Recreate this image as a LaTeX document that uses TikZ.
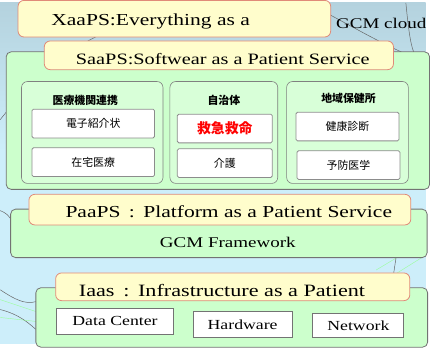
\documentclass[tikz,border=0pt]{standalone}
\usepackage{fontspec}
\setmainfont[FakeStretch=1.28]{Liberation Serif}
\newfontfamily\jp{Noto Sans CJK JP}
\definecolor{skyblue}{HTML}{CDEEFA}
\definecolor{cloudgray}{HTML}{B4D2DE}
\definecolor{layergreen}{HTML}{CCFFCC}
\definecolor{panelgreen}{HTML}{D8FFD8}
\definecolor{labelyellow}{HTML}{FFFDCC}
\definecolor{labelred}{HTML}{E08A78}
\begin{document}
\begin{tikzpicture}[
    x=1pt, y=-1pt,
    layer/.style={rectangle, draw=black!55, fill=layergreen, rounded corners=5pt, line width=0.8pt},
    panel/.style={rectangle, draw=black!50, fill=panelgreen, rounded corners=6pt, line width=0.6pt},
    item/.style={rectangle, draw=black!45, fill=white, rounded corners=1.5pt, line width=0.8pt, font=\jp\fontsize{11}{12}\selectfont},
    title/.style={rectangle, draw=labelred, fill=labelyellow, rounded corners=6pt, line width=0.8pt},
    jtitle/.style={font=\jp\bfseries\fontsize{11}{12}\selectfont},
    infra/.style={rectangle, draw=black!55, fill=white, line width=0.8pt, font=\fontsize{14}{15}\selectfont},
    branch/.style={draw=black!60, line width=0.5pt},
    twig/.style={draw=green!40!white, line width=0.4pt}
]
% sky and cloud background
\fill[skyblue] (0,0) rectangle (430,345);
\shade[top color=cloudgray, bottom color=skyblue] (0,0) rectangle (430,150);
\draw[branch] (0,118) .. controls (30,80) and (60,50) .. (110,28);
\draw[branch] (310,0) .. controls (350,20) and (390,45) .. (430,60);
\draw[branch] (410,0) .. controls (412,20) and (414,40) .. (418,50);
\draw[branch] (0,210) .. controls (5,212) and (10,215) .. (12,222);
\draw[branch] (0,290) .. controls (15,300) and (25,305) .. (36,302);
\draw[branch] (0,310) .. controls (20,315) and (30,325) .. (36,330);
\draw[twig] (0,300) -- (36,312);
\draw[twig] (0,318) -- (36,322);
\draw[twig] (380,270) -- (430,240);
\draw[twig] (390,280) -- (430,255);
\draw[branch] (400,258) -- (397,278);

% XaaPS
\node[title, minimum width=316pt, minimum height=37pt] (xaaps) at (176,16) {};
\node[font=\fontsize{17}{18}\selectfont] (xaapstxt) at (152,19) {XaaPS:Everything as a};
\node[font=\fontsize{15}{16}\selectfont, anchor=west] (cloud) at (336,21) {GCM cloud};

% SaaPS layer
\node[layer, minimum width=428pt, minimum height=139pt] (saaps) at (220,119) {};
\node[title, minimum width=353pt, minimum height=29pt] (saapstitle) at (221,53) {};
\node[font=\fontsize{16}{18}\selectfont] (saapstxt) at (225,57) {SaaPS:Softwear as a Patient Service};

% three partners
\node[panel, minimum width=143pt, minimum height=103pt] (hosp) at (93,131) {};
\node[jtitle] (hosptxt) at (86,99) {医療機関連携};
\node[item, minimum width=124pt, minimum height=29pt] (letter) at (94,122) {電子紹介状};
\node[item, minimum width=124pt, minimum height=29pt] (home) at (94,161) {在宅医療};

\node[panel, minimum width=109pt, minimum height=103pt] (city) at (226,131) {};
\node[jtitle] (citytxt) at (226,99) {自治体};
\node[item, minimum width=96pt, minimum height=29pt, text=red, font=\jp\bfseries\fontsize{14}{15}\selectfont] (rescue) at (227,127) {救急救命};
\node[item, minimum width=96pt, minimum height=29pt] (care) at (227,162) {介護};

\node[panel, minimum width=123pt, minimum height=103pt] (health) at (351,131) {};
\node[jtitle] (healthtxt) at (352,97) {地域保健所};
\node[item, minimum width=104pt, minimum height=29pt] (checkup) at (351,125) {健康診断};
\node[item, minimum width=104pt, minimum height=29pt] (prevent) at (352,164) {予防医学};

% PaaPS layer
\node[layer, minimum width=421pt, minimum height=49pt] (paaps) at (221,233) {};
\node[title, minimum width=386pt, minimum height=31pt] (paapstitle) at (222,209) {};
\node[font=\fontsize{17}{18}\selectfont] (paapstxt) at (231,211) {PaaPS\enspace:\enspace Platform as a Patient Service};
\node[font=\fontsize{15}{16}\selectfont] (frame) at (230,242) {GCM Framework};

% IaaS layer
\node[layer, minimum width=396pt, minimum height=60pt] (iaas) at (234,318) {};
\node[title, minimum width=358pt, minimum height=28pt] (iaastitle) at (235,287) {};
\node[font=\fontsize{17.5}{18}\selectfont, anchor=west] (iaastxt) at (76,291) {Iaas\enspace:\enspace Infrastructure as a Patient};
\node[infra, minimum width=118pt, minimum height=26pt] (dc) at (116,322) {Data Center};
\node[infra, minimum width=100pt, minimum height=26pt] (hw) at (245,325) {Hardware};
\node[infra, minimum width=92pt, minimum height=25pt] (net) at (362,326) {Network};
\end{tikzpicture}
\end{document}
